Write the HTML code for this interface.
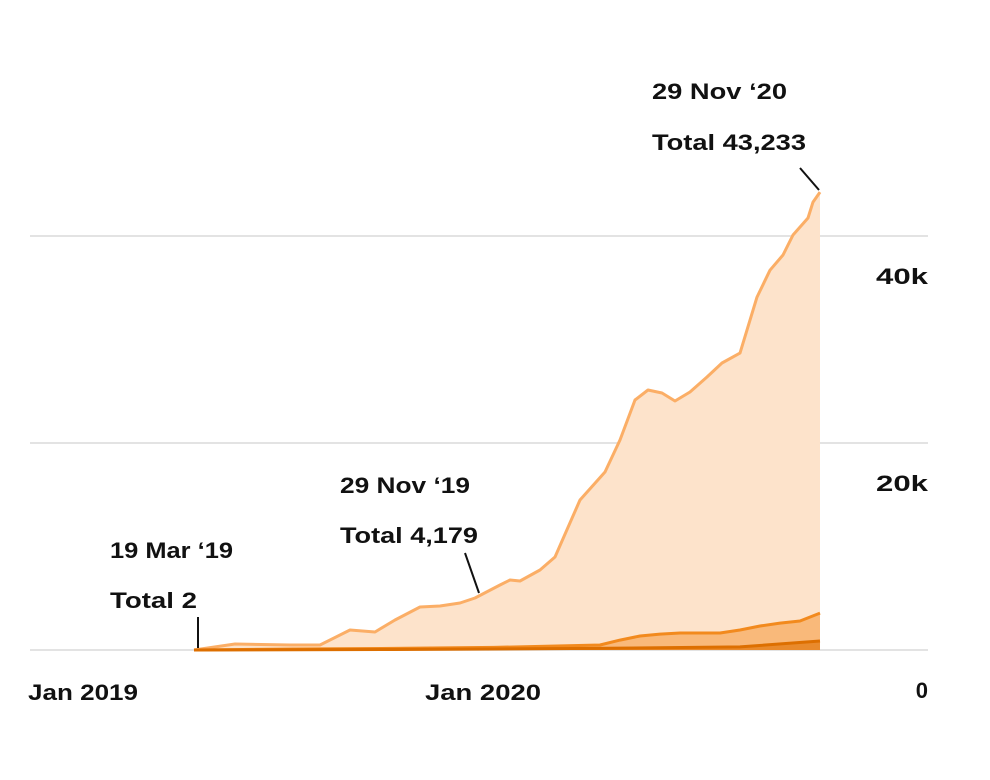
<!DOCTYPE html>
<html><head><meta charset="utf-8"><style>
html,body{margin:0;padding:0;background:#fff;}
svg{display:block;}
text{font-family:"Liberation Sans",sans-serif;font-weight:bold;fill:#111;font-size:22px;}
</style></head><body>
<svg id="chart" width="990" height="780" viewBox="0 0 990 780" xmlns="http://www.w3.org/2000/svg">
<g id="grid"></g>
<g id="areas"></g>
<g id="labels">
<text x="28" y="700" textLength="110" lengthAdjust="spacingAndGlyphs">Jan 2019</text>
<text x="425" y="700" textLength="116" lengthAdjust="spacingAndGlyphs">Jan 2020</text>
</g>
<g>
<text x="110" y="558" textLength="123" lengthAdjust="spacingAndGlyphs">19 Mar ‘19</text>
<text x="110" y="608" textLength="87" lengthAdjust="spacingAndGlyphs">Total 2</text>
<line x1="198" y1="617" x2="198" y2="648" stroke="#111" stroke-width="2"/>
<text x="340" y="493" textLength="130" lengthAdjust="spacingAndGlyphs">29 Nov ‘19</text>
<text x="340" y="543" textLength="138" lengthAdjust="spacingAndGlyphs">Total 4,179</text>
<line x1="465" y1="553" x2="479" y2="593" stroke="#111" stroke-width="2"/>
<text x="652" y="99" textLength="135" lengthAdjust="spacingAndGlyphs">29 Nov ‘20</text>
<text x="652" y="150" textLength="154" lengthAdjust="spacingAndGlyphs">Total 43,233</text>
<line x1="800" y1="168" x2="819" y2="190" stroke="#111" stroke-width="2"/>
</g>
</svg>
<script>
// days since 19 Mar 2019 (approximate positions)
const totalDays = [0,41,96,126,156,181,201,226,246,266,281,306,316,326,346,361,386,411,426,441,454,468,481,496,513,528,546,563,576,589,599,614,619,626];
const totalValues = [2,580,480,480,1930,1740,2900,4150,4250,4540,5020,6280,6760,6670,7730,8990,14490,17200,20290,24150,25120,24830,24060,24930,26380,27730,28690,34100,36700,38160,40100,41740,43280,44240];
const midDays = [0,100,200,300,406,426,446,466,486,526,546,566,586,606,626];
const midValues = [0,100,150,250,480,960,1350,1540,1640,1640,1930,2320,2600,2800,3570];
const lowDays = [0,200,400,546,626];
const lowValues = [0,50,150,300,870];
const yTicks = [0,20000,40000];
const yTickLabels = ["0","20k","40k"];

const svg = document.getElementById('chart');
const NS = 'http://www.w3.org/2000/svg';
const x = d => 194 + d * (820-194) / 626;
const y = v => 650 - v * 207 / 20000;

const grid = document.getElementById('grid');
yTicks.forEach((t,i) => {
  const l = document.createElementNS(NS,'line');
  l.setAttribute('x1',30); l.setAttribute('x2',928);
  l.setAttribute('y1',y(t)); l.setAttribute('y2',y(t));
  l.setAttribute('stroke','#e3e3e3'); l.setAttribute('stroke-width',2);
  
  
  grid.appendChild(l);
  const tx = document.createElementNS(NS,'text');
  tx.setAttribute('x',928); tx.setAttribute('text-anchor','end');
  tx.setAttribute('y', t===0 ? 698 : y(t)+48);
  if (t !== 0) { tx.setAttribute('textLength', 52); tx.setAttribute('lengthAdjust','spacingAndGlyphs'); }
  tx.textContent = yTickLabels[i];
  
  
  document.getElementById('labels').appendChild(tx);
});

const areas = document.getElementById('areas');
function drawArea(days, vals, fill, stroke, sw, name) {
  let pts = days.map((d,i) => x(d).toFixed(1)+','+y(vals[i]).toFixed(1));
  const a = document.createElementNS(NS,'path');
  a.setAttribute('d','M'+x(days[0])+','+y(0)+' L'+pts.join(' L')+' L'+x(days[days.length-1])+','+y(0)+' Z');
  a.setAttribute('fill',fill);
  
  
  areas.appendChild(a);
  const l = document.createElementNS(NS,'polyline');
  l.setAttribute('points',pts.join(' '));
  l.setAttribute('fill','none'); l.setAttribute('stroke',stroke);
  l.setAttribute('stroke-width',sw); l.setAttribute('stroke-linejoin','round');
  
  
  areas.appendChild(l);
}
drawArea(totalDays, totalValues, '#fde3cb', '#fbae66', 3, 'total-series');
drawArea(midDays, midValues, '#f9b97a', '#f28a1e', 3, 'middle-series');
drawArea(lowDays, lowValues, '#e98a2c', '#dd6f00', 3, 'lower-series');
</script>
</body></html>
